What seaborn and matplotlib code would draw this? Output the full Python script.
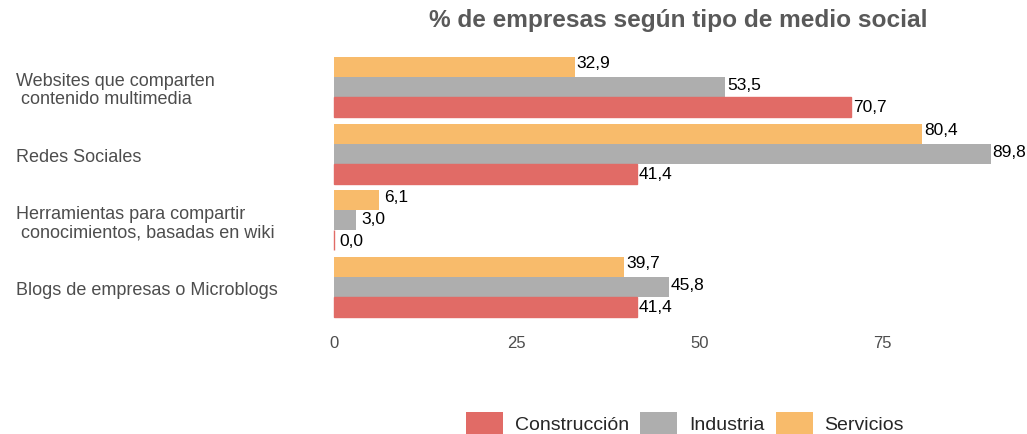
import numpy as np
import pandas as pd
import seaborn as sns
import matplotlib.pyplot as plt
from matplotlib.patches import Patch

## Data
categorias = ["Websites que comparten\n contenido multimedia",
              "Redes Sociales",
              "Herramientas para compartir\n conocimientos, basadas en wiki",
              "Blogs de empresas o Microblogs"]
construccion = [70.7, 41.4, 0.0, 41.4]
industria = [53.5, 89.8, 3.0, 45.8]
servicios = [32.9, 80.4, 6.1, 39.7]
sectores = ["Construcción", "Industria", "Servicios"]
colores = {"Construcción": "#E16B66", "Industria": "#AEAEAE", "Servicios": "#F8BB6B"}

df = pd.DataFrame({
    "categoria": categorias * 3,
    "sector": np.repeat(sectores, len(categorias)),
    "valor": construccion + industria + servicios,
})

sns.set_style("white")
plt.rcParams["font.family"] = ["Liberation Sans", "DejaVu Sans"]

fig = plt.figure(figsize=(10.27, 4.35), dpi=100)
ax = fig.add_axes([301 / 1027, 1 - 328 / 435, (1024 - 301) / 1027, 280 / 435])

hue_order = ["Servicios", "Industria", "Construcción"]
sns.barplot(data=df, y="categoria", x="valor", hue="sector", order=categorias,
            hue_order=hue_order, palette=colores, orient="h", width=0.9,
            saturation=1, legend=False, linewidth=0, ax=ax)

## value labels
offsets = {"Servicios": -0.06, "Industria": -0.03, "Construcción": 0.0}
for cont, sec in zip(ax.containers, hue_order):
    for bar in cont:
        if sec == "Construcción":
            bar.set_edgecolor(colores[sec])
            bar.set_linewidth(1.0)
        w = bar.get_width()
        yc = bar.get_y() + bar.get_height() / 2 + offsets[sec]
        gap = 0.2 if w > 20 else 0.7
        ax.text(w + gap, yc, f"{w:.1f}".replace(".", ","), ha="left", va="center",
                fontsize=12.5, color="black")

ax.set_xlim(-4.49, 94.29)
ax.set_ylim(3.6, -0.6)
ax.set_xticks([0, 25, 50, 75])
ax.tick_params(axis="x", colors="#4D4D4D", labelsize=12, length=0, pad=6)
ax.set_yticks([])
ax.set_xlabel("")
ax.set_ylabel("")
for s in ax.spines.values():
    s.set_visible(False)

## category labels, left aligned at the figure edge
for i, c in enumerate(categorias):
    y_disp = ax.transData.transform((0, i))[1]
    y_fig = fig.transFigure.inverted().transform((0, y_disp - 2.5))[1]
    fig.text(16 / 1027, y_fig, c, ha="left", va="center", fontsize=13,
             color="#4D4D4D", linespacing=1.15)

fig.text(678 / 1027, 1 - 20 / 435, "% de empresas según tipo de medio social",
         ha="center", va="center", fontsize=17.6, fontweight="bold", color="#595959")

handles = [Patch(facecolor=colores[s], edgecolor="none", label=s) for s in sectores]
fig.legend(handles=handles, loc="center", bbox_to_anchor=(685 / 1027, 1 - 424 / 435),
           ncol=3, frameon=False, fontsize=14, handlelength=1.9, handleheight=1.4,
           columnspacing=0.6, handletextpad=0.6)

fig.savefig("out.png", dpi=100)
